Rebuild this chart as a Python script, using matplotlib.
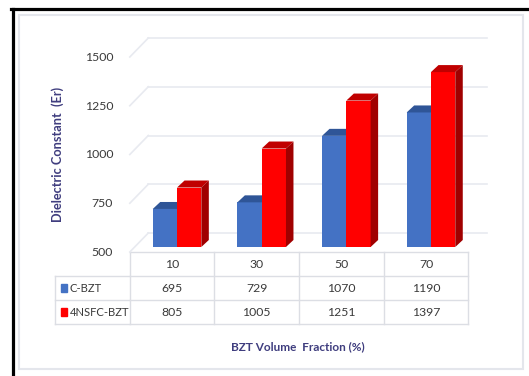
import matplotlib.pyplot as plt
import numpy as np
from matplotlib.patches import Polygon, Rectangle
from matplotlib.lines import Line2D
from matplotlib.transforms import Affine2D, ScaledTranslation, blended_transform_factory

fractions = ["10", "30", "50", "70"]
c_bzt = [695, 729, 1070, 1190]
nsfc_bzt = [805, 1005, 1251, 1397]
series = ["C-BZT", "4NSFC-BZT"]
yticks = [500, 750, 1000, 1250, 1500]

blue, blue_top = "#4472C4", "#2F5597"
red, red_top, red_side = "#FF0000", "#C00000", "#A00000"
grid_col = "#e8eaf0"
title_col = "#3f3d7e"
text_col = "#3a3a3a"
fs = 8.8

W, H = 529, 376
plt.rcParams['font.family'] = ['Lato', 'DejaVu Sans']

fig = plt.figure(figsize=(W / 100, H / 100), dpi=100)
fig.patch.set_facecolor("white")
# pixel coords measured from the top-left corner
px = Affine2D().scale(1 / W, -1 / H).translate(0, 1) + fig.transFigure


def shift(dx, dy):
    # offset in screen pixels, dy positive = downwards
    return ScaledTranslation(dx / 100, -dy / 100, fig.dpi_scale_trans)


# plane where the front faces of the columns sit
left, right, top, bottom = 134.7, 473.3, 52, 247
ax = fig.add_axes([left / W, 1 - bottom / H, (right - left) / W, (bottom - top) / H])
ax.set_xlim(-0.5, 3.5)
ax.set_ylim(yticks[0], yticks[-1])
ax.axis("off")

back = ax.transData + shift(13.6, -14)
front = ax.transData + shift(-4.9, 5)

# back wall gridlines + left wall diagonals
for v in yticks:
    ax.add_line(Line2D([-0.5, 3.5], [v, v], transform=back, color=grid_col,
                       lw=1.2, clip_on=False, zorder=1))
    x0, y0 = back.transform((-0.5, v))
    x1, y1 = front.transform((-0.5, v))
    fig.add_artist(Line2D([x0 / 100 / fig.get_figwidth(), x1 / 100 / fig.get_figwidth()],
                          [y0 / 100 / fig.get_figheight(), y1 / 100 / fig.get_figheight()],
                          transform=fig.transFigure, color=grid_col, lw=1.2))
    ax.text(-0.5, v, str(v), transform=front + shift(-16.7, 0.5), ha="right", va="center",
            fontsize=fs, color=text_col, clip_on=False)

# 3d columns
x = np.arange(len(fractions))
w = 0.287
base = yticks[0]
dpx = (right - left) / 4  # pixels per category
dx, dy = 7.5 / dpx, 7 / ((bottom - top) / (yticks[-1] - yticks[0]))


def column(xl, val, face, topc, side=None, z=2):
    ax.bar(xl, val - base, w, bottom=base, align="edge", color=face, zorder=z, clip_on=False)
    ax.add_patch(Polygon([(xl, val), (xl + w, val), (xl + w + dx, val + dy), (xl + dx, val + dy)],
                         closed=True, color=topc, zorder=z, clip_on=False, lw=0))
    if side:
        ax.add_patch(Polygon([(xl + w, base), (xl + w, val), (xl + w + dx, val + dy),
                              (xl + w + dx, base + dy)],
                             closed=True, color=side, zorder=z, clip_on=False, lw=0))


for i in x:
    column(i - w, c_bzt[i], blue, blue_top, z=2)
    column(i, nsfc_bzt[i], red, red_top, red_side, z=3)

# data table below the plot
tbl = blended_transform_factory(front, px)
rows = [252, 276, 300, 324]
tcol = "#dcdee4"
ax.add_line(Line2D([-0.5, 3.5], [rows[0], rows[0]], transform=tbl, color=tcol, lw=1, clip_on=False))
for r in rows[1:]:
    fig.add_artist(Line2D([55, 129], [r, r], transform=px, color=tcol, lw=1))
    ax.add_line(Line2D([-0.5, 3.5], [r, r], transform=tbl, color=tcol, lw=1, clip_on=False))
for c in np.arange(-0.5, 4, 1):
    ax.add_line(Line2D([c, c], [rows[0], rows[-1]], transform=tbl, color=tcol, lw=1, clip_on=False))
fig.add_artist(Line2D([55, 55], [rows[1], rows[-1]], transform=px, color=tcol, lw=1))

for i, f in enumerate(fractions):
    ax.text(i, (rows[0] + rows[1]) / 2 + 1, f, transform=tbl, ha="center", va="center",
            fontsize=fs, color=text_col, clip_on=False)
    ax.text(i, (rows[1] + rows[2]) / 2, str(c_bzt[i]), transform=tbl, ha="center",
            va="center", fontsize=fs, color=text_col, clip_on=False)
    ax.text(i, (rows[2] + rows[3]) / 2 + 1, str(nsfc_bzt[i]), transform=tbl, ha="center",
            va="center", fontsize=fs, color=text_col, clip_on=False)

for k, (name, col) in enumerate(zip(series, [blue, red])):
    yc = (rows[k + 1] + rows[k + 2]) / 2
    fig.add_artist(Rectangle((60.5, yc - 4), 6, 8, transform=px, color=col))
    fig.text(70, yc, name, transform=px, ha="left", va="center", fontsize=8.1,
             color=text_col)

# axis titles
fig.text(58, 154, "Dielectric Constant  (Er)", transform=px, rotation=90, ha="center",
         va="center", fontsize=9.2, fontweight="bold", color=title_col)
fig.text(298, 347, "BZT Volume  Fraction (%)", transform=px, ha="center", va="center",
         fontsize=8.5, fontweight="bold", color=title_col)

# chart frame
fig.add_artist(Rectangle((19, 15), 504, 354, transform=px, fill=False, ec="#e4e6ec", lw=1.5))
fig.add_artist(Line2D([12.5, 12.5], [8.5, 376], transform=px, color="black", lw=2.3))
fig.add_artist(Line2D([11.4, 529], [8.5, 8.5], transform=px, color="black", lw=2.3))

fig.savefig("out.png", dpi=100)
